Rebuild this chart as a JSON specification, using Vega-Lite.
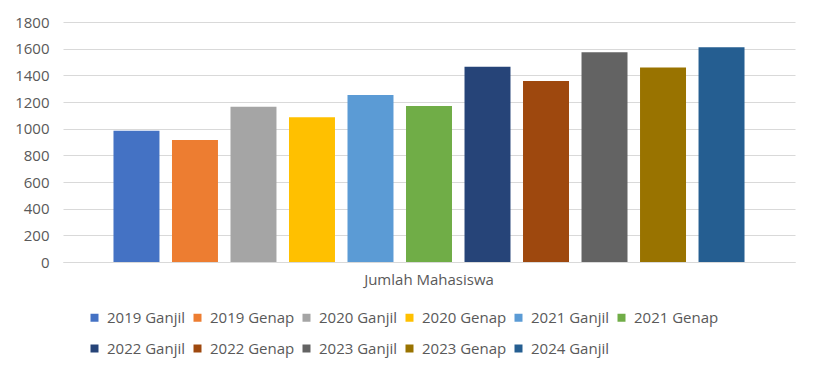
{
  "$schema": "https://vega.github.io/schema/vega-lite/v6.json",
  "width": 732,
  "height": 240,
  "autosize": {"type": "none"},
  "padding": {"left": 63, "top": 22, "right": 22, "bottom": 115},
  "background": "white",
  "data": {
    "values": [
      {"kategori": "Jumlah Mahasiswa", "semester": "2019 Ganjil", "jumlah": 985},
      {"kategori": "Jumlah Mahasiswa", "semester": "2019 Genap", "jumlah": 915},
      {"kategori": "Jumlah Mahasiswa", "semester": "2020 Ganjil", "jumlah": 1165},
      {"kategori": "Jumlah Mahasiswa", "semester": "2020 Genap", "jumlah": 1085},
      {"kategori": "Jumlah Mahasiswa", "semester": "2021 Ganjil", "jumlah": 1252},
      {"kategori": "Jumlah Mahasiswa", "semester": "2021 Genap", "jumlah": 1170},
      {"kategori": "Jumlah Mahasiswa", "semester": "2022 Ganjil", "jumlah": 1465},
      {"kategori": "Jumlah Mahasiswa", "semester": "2022 Genap", "jumlah": 1358},
      {"kategori": "Jumlah Mahasiswa", "semester": "2023 Ganjil", "jumlah": 1573},
      {"kategori": "Jumlah Mahasiswa", "semester": "2023 Genap", "jumlah": 1458},
      {"kategori": "Jumlah Mahasiswa", "semester": "2024 Ganjil", "jumlah": 1610}
    ]
  },
  "mark": {"type": "bar"},
  "encoding": {
    "x": {
      "field": "kategori",
      "type": "nominal",
      "title": null,
      "scale": {"paddingInner": 0, "paddingOuter": 0.08},
      "axis": {
        "labelAngle": 0,
        "ticks": false,
        "domainColor": "#d9d9d9",
        "labelFont": "Open Sans",
        "labelFontSize": 15,
        "labelColor": "#595959",
        "labelPadding": 10
      }
    },
    "xOffset": {
      "field": "semester",
      "type": "nominal",
      "scale": {"paddingInner": 0.214, "paddingOuter": 0}
    },
    "y": {
      "field": "jumlah",
      "type": "quantitative",
      "title": null,
      "scale": {"domain": [0, 1800]},
      "axis": {
        "values": [0, 200, 400, 600, 800, 1000, 1200, 1400, 1600, 1800],
        "format": "d",
        "domain": false,
        "ticks": false,
        "gridColor": "#d9d9d9",
        "labelFont": "Open Sans",
        "labelFontSize": 15,
        "labelColor": "#595959",
        "labelPadding": 14
      }
    },
    "color": {
      "field": "semester",
      "type": "nominal",
      "scale": {
        "domain": ["2019 Ganjil", "2019 Genap", "2020 Ganjil", "2020 Genap", "2021 Ganjil", "2021 Genap", "2022 Ganjil", "2022 Genap", "2023 Ganjil", "2023 Genap", "2024 Ganjil"],
        "range": ["#4472C4", "#ED7D31", "#A5A5A5", "#FFC000", "#5B9BD5", "#70AD47", "#264478", "#9E480E", "#636363", "#997300", "#255E91"]
      },
      "legend": {
        "title": null,
        "orient": "none",
        "legendX": 24,
        "legendY": 288,
        "direction": "horizontal",
        "columns": 6,
        "symbolType": "square",
        "symbolSize": 64,
        "symbolStrokeWidth": 0,
        "labelFont": "Open Sans",
        "labelFontSize": 15,
        "labelColor": "#595959",
        "labelOffset": 5,
        "columnPadding": 4,
        "rowPadding": 15
      }
    }
  },
  "config": {
    "view": {"stroke": null}
  }
}
